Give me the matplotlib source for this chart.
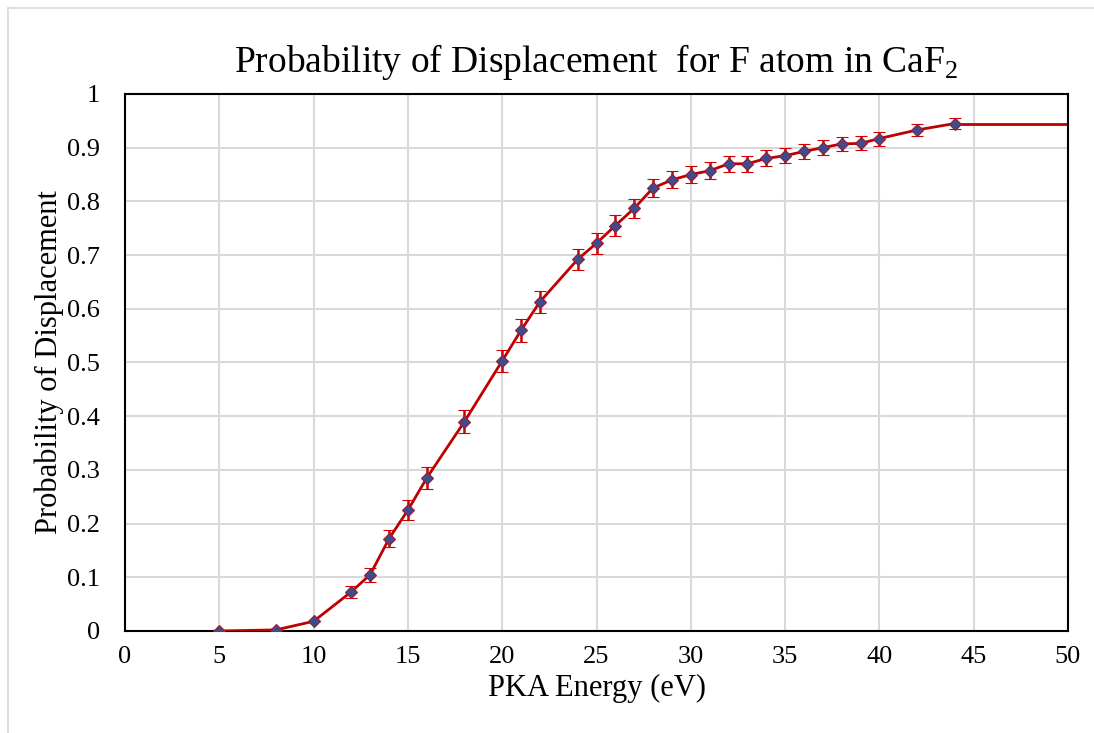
import numpy as np
import matplotlib
matplotlib.use('Agg')
import matplotlib.pyplot as plt
from matplotlib.lines import Line2D

plt.rcParams['font.family'] = ['Liberation Serif', 'DejaVu Serif']
plt.rcParams['mathtext.fontset'] = 'custom'
plt.rcParams['mathtext.rm'] = 'Liberation Serif'

# data
energy = [5, 8, 10, 12, 13, 14, 15, 16, 18, 20, 21, 22, 24, 25, 26, 27, 28,
          29, 30, 31, 32, 33, 34, 35, 36, 37, 38, 39, 40, 42, 44]
prob = [0.0, 0.002, 0.018, 0.073, 0.105, 0.172, 0.225, 0.285, 0.390, 0.503,
        0.560, 0.613, 0.692, 0.722, 0.755, 0.787, 0.825, 0.840, 0.850, 0.857,
        0.870, 0.870, 0.880, 0.885, 0.893, 0.900, 0.907, 0.908, 0.917, 0.933,
        0.945]
err = [0.0, 0.0, 0.0, 0.011, 0.013, 0.016, 0.018, 0.02, 0.021, 0.021,
       0.021, 0.021, 0.02, 0.02, 0.019, 0.018, 0.017, 0.016, 0.016, 0.016,
       0.015, 0.015, 0.015, 0.014, 0.014, 0.014, 0.013, 0.013, 0.013, 0.011,
       0.010]
# the line continues flat to the edge of the plot
tail_x = [44, 50]
tail_y = [0.945, 0.945]

fig = plt.figure(figsize=(10.94, 7.33), dpi=100)
ax = fig.add_axes([0.1143, 0.1392, 0.8619, 0.7326])

ax.plot(tail_x, tail_y, color='#c00000', lw=2, zorder=2)
ax.errorbar(energy, prob, yerr=err, fmt='-', color='#c00000', lw=2,
            ecolor='#d00000', elinewidth=1.8, capsize=4, capthick=1.8,
            marker='D', markersize=6, markerfacecolor='#3f4b8c',
            markeredgecolor='#9b1b30', markeredgewidth=0.8, zorder=3)

ax.set_xlim(0, 50)
ax.set_ylim(0, 1)
ax.set_xticks(np.arange(0, 51, 5))
ax.set_yticks(np.arange(0, 1.01, 0.1))
ax.set_yticklabels(['0', '0.1', '0.2', '0.3', '0.4', '0.5', '0.6', '0.7',
                    '0.8', '0.9', '1'])
ax.grid(True, color='#d9d9d9', lw=1.5)
ax.set_axisbelow(True)
ax.tick_params(length=0, labelsize=19)
ax.tick_params(axis='x', pad=11)
ax.tick_params(axis='y', pad=18)
for s in ax.spines.values():
    s.set_color('black')
    s.set_linewidth(1.5)

ax.set_xlabel('PKA Energy (eV)', fontsize=22, labelpad=4)
ax.set_ylabel('Probability of Displacement', fontsize=22, labelpad=2)
ax.set_title('Probability of Displacement  for F atom in CaF$_2$',
             fontsize=27, pad=16)

# thin chart-area border (top and left visible in the original)
fig.add_artist(Line2D([0.007, 1.0], [0.989, 0.989], color='#d9d9d9',
                      lw=1.2, transform=fig.transFigure))
fig.add_artist(Line2D([0.007, 0.007], [0.0, 0.989], color='#d9d9d9',
                      lw=1.2, transform=fig.transFigure))

fig.savefig('out.png', dpi=100)
